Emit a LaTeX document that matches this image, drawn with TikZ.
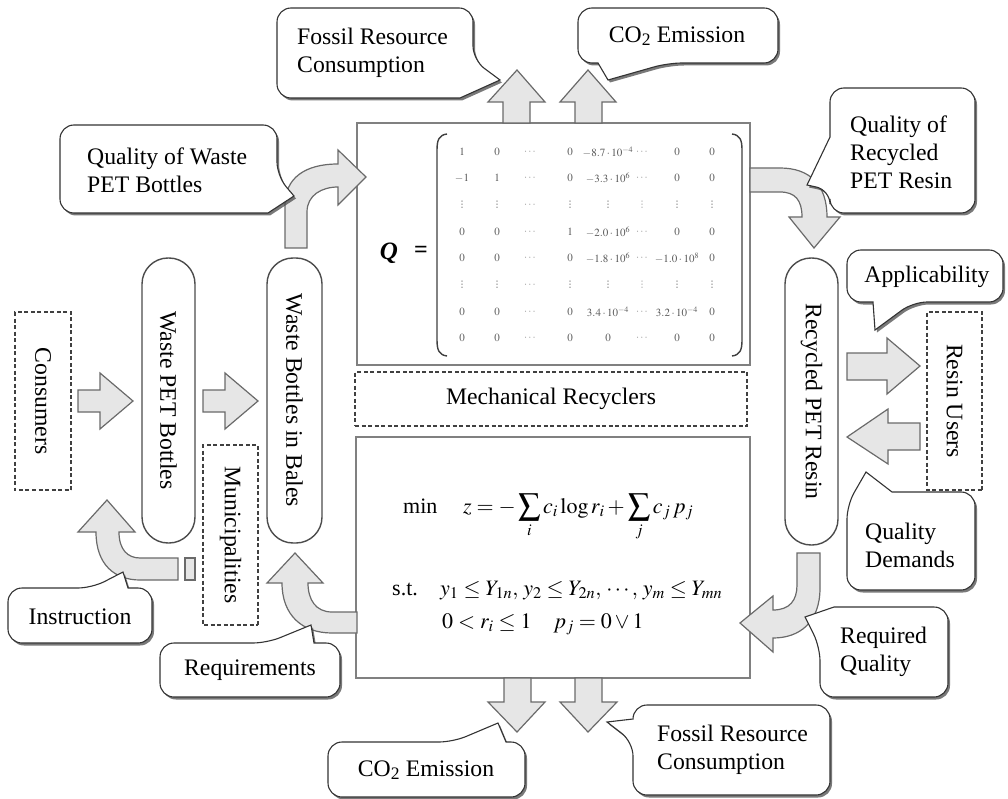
\documentclass[tikz,border=0pt]{standalone}
\usepackage{mathptmx}
\usepackage{fontspec}
\setmainfont{Liberation Serif}
\newfontfamily\dvfont{DejaVu Sans}
\usetikzlibrary{shadows}
\definecolor{arrfill}{HTML}{E6E6E6}
\definecolor{arrline}{HTML}{6A6A6A}
\definecolor{boxline}{HTML}{808080}
\newcommand{\vdts}{\hbox{\dvfont\fontsize{9}{10}\selectfont\char"22EE}}
\tikzset{
  txt/.style={font=\fontsize{23.7}{28}\selectfont, inner sep=0pt, align=left},
  fml/.style={font=\fontsize{22}{26}\selectfont, inner sep=0pt},
  barrow/.style={fill=arrfill, draw=arrline, line width=1.2pt, line join=miter},
  callout/.style={fill=white, draw=black!80, line width=1.1pt,
    drop shadow={shadow xshift=2pt, shadow yshift=-2.5pt, fill=black!70, opacity=0.75}},
  pill/.style={draw=black!70, line width=1.4pt, fill=white, rounded corners=26pt,
    font=\fontsize{23.7}{28}\selectfont, inner sep=0pt},
  dbox/.style={draw=black!75, line width=1.2pt, dash pattern=on 4pt off 2.5pt,
    font=\fontsize{23.7}{28}\selectfont, inner sep=0pt},
  mbox/.style={draw=boxline, line width=1.6pt, fill=white, inner sep=0pt},
  ment/.style={font=\fontsize{11}{12}\selectfont, text=black!65, inner sep=0pt},
  brk/.style={line width=1.4pt, draw=black!75},
}
\begin{document}
\begin{tikzpicture}[x=1pt,y=-1pt]
\useasboundingbox (0,0) rectangle (1008,799);

% main boxes
\node[mbox, minimum width=393pt, minimum height=242pt] (mat) at (553.5,244) {};
\node[mbox, minimum width=394pt, minimum height=241pt] (opt) at (553,557.5) {};
\node[dbox, minimum width=392pt, minimum height=54pt] (mech) at (551,399) {Mechanical Recyclers};

% pills
\node[pill, rotate=-90, minimum width=285pt, minimum height=53pt] (wpb) at (168.5,400.5) {Waste PET Bottles};
\node[pill, rotate=-90, minimum width=285pt, minimum height=55pt] (wbb) at (294.5,400.5) {Waste Bottles in Bales};
\node[pill, rotate=-90, minimum width=287pt, minimum height=53pt] (rpr) at (811.5,401.5) {Recycled PET Resin};

% dashed actor boxes
\node[dbox, rotate=-90, minimum width=178pt, minimum height=56pt] (cons) at (43,401) {Consumers};
\node[dbox, rotate=-90, minimum width=180pt, minimum height=55pt] (muni) at (230.5,535) {Municipalities};
\node[dbox, rotate=-90, minimum width=178pt, minimum height=55pt] (ru) at (954.5,401) {Resin Users};

% straight block arrows
\draw[barrow] (78,390) -- (100,390) -- (100,373) -- (133,401) -- (100,429) -- (100,412) -- (78,412) -- cycle;
\draw[barrow] (203,390) -- (225,390) -- (225,373) -- (258,401) -- (225,429) -- (225,412) -- (203,412) -- cycle;
\draw[barrow] (847,353) -- (887,353) -- (887,338) -- (920,366) -- (887,394) -- (887,380) -- (847,380) -- cycle;
\draw[barrow] (920,423) -- (888,423) -- (888,409) -- (847,437) -- (888,464) -- (888,450) -- (920,450) -- cycle;
\draw[barrow] (503,123) -- (503,102) -- (488,102) -- (517,70) -- (545,102) -- (530,102) -- (530,123) -- cycle;
\draw[barrow] (575,123) -- (575,102) -- (560,102) -- (588,70) -- (616,102) -- (602,102) -- (602,123) -- cycle;
\draw[barrow] (504,678) -- (504,702) -- (488,702) -- (517,732) -- (545,702) -- (531,702) -- (531,678) -- cycle;
\draw[barrow] (575,678) -- (575,702) -- (560,702) -- (588,732) -- (617,702) -- (602,702) -- (602,678) -- cycle;

% curved block arrows
\draw[barrow] (285,248) -- (285,205) .. controls (285,178) and (305,164) .. (338,164) -- (338,150) -- (366,177) -- (338,205) -- (338,187) .. controls (322,187) and (307,195) .. (307,212) -- (307,248) -- cycle;
\draw[barrow] (750,168) -- (780,168) .. controls (810,168) and (827,185) .. (827,217) -- (840,217) -- (814,248) -- (789,217) -- (802,217) .. controls (802,200) and (795,192) .. (780,192) -- (750,192) -- cycle;
\draw[barrow] (797,553) -- (820,553) -- (820,588) .. controls (820,622) and (800,638) .. (773,638) -- (773,652) -- (740,623) -- (773,596) -- (773,610) .. controls (790,610) and (797,600) .. (797,585) -- cycle;
\draw[barrow] (357,612) -- (332,612) .. controls (316,612) and (308,600) .. (308,583) -- (323,583) -- (295,553) -- (267,583) -- (282,583) .. controls (282,615) and (302,633) .. (332,633) -- (357,633) -- cycle;
\draw[barrow] (178,558) -- (140,558) .. controls (128,558) and (119,550) .. (119,532) -- (135,532) -- (107,500) -- (78,532) -- (96,532) .. controls (96,565) and (115,580) .. (140,580) -- (178,580) -- cycle;
\draw[barrow] (185,558) rectangle (195,580);

% matrix
\node[font=\fontsize{25}{28}\selectfont\bfseries\itshape, inner sep=0pt] (Q) at (389,253) {Q};
\node[font=\fontsize{24}{28}\selectfont\bfseries, inner sep=0pt] (eq) at (421,252) {=};
\draw[brk] (447,134) .. controls (439,135) and (437,140) .. (437,150) -- (437,340) .. controls (437,350) and (439,355) .. (447,356);
\draw[brk] (732,134) .. controls (740,135) and (742,140) .. (742,150) -- (742,340) .. controls (742,350) and (740,355) .. (732,356);
\foreach \yy/\xa/\xb/\xc/\xd/\xe/\xf/\xg/\xh in {
  152/1/0/\cdots/0/-8.7\cdot10^{-4}/\cdots/0/0,
  178/-1/1/\cdots/0/-3.3\cdot10^{6}/\cdots/0/0,
  205/\vdts/\vdts/\cdots/\vdts/\vdts/\vdts/\vdts/\vdts,
  232/0/0/\cdots/1/-2.0\cdot10^{6}/\cdots/0/0,
  258/0/0/\cdots/0/-1.8\cdot10^{6}/\cdots/-1.0\cdot10^{8}/0,
  285/\vdts/\vdts/\cdots/\vdts/\vdts/\vdts/\vdts/\vdts,
  312/0/0/\cdots/0/3.4\cdot10^{-4}/\cdots/3.2\cdot10^{-4}/0,
  338/0/0/\cdots/0/0/\cdots/0/0}{
  \node[ment] at (462,\yy) {$\xa$};
  \node[ment] at (497,\yy) {$\xb$};
  \node[ment, text=black!40] at (530,\yy) {$\xc$};
  \node[ment] at (570,\yy) {$\xd$};
  \node[ment] at (608,\yy) {$\xe$};
  \node[ment, text=black!40] at (642,\yy) {$\xf$};
  \node[ment] at (677,\yy) {$\xg$};
  \node[ment] at (712,\yy) {$\xh$};
}

% optimisation formula
\node[fml, anchor=base west] (min) at (403,513) {min};
\node[fml, anchor=base west] (obj) at (463,513) {$\displaystyle z=-\sum_i c_i\log r_i+\sum_j c_j\,p_j$};
\node[fml, anchor=base west] (st) at (392,595) {s.t.};
\node[fml, anchor=base west] (cA) at (440,595) {$y_1\le Y_{1n},\, y_2\le Y_{2n},\,\cdots,\, y_m\le Y_{mn}$};
\node[fml, anchor=base west] (cB) at (442,628) {$0<r_i\le1\quad p_j=0\vee1$};

% callouts
\draw[callout, rounded corners=14pt] (277,8) -- (473,8) -- (473,60) [sharp corners] -- (500,80) -- (460,98) [rounded corners=14pt] -- (277,98) -- cycle;
\draw[callout, rounded corners=14pt] (578,8) -- (778,8) -- (778,63) -- (668,63) [sharp corners] -- (608,80) -- (598,63) [rounded corners=14pt] -- (578,63) -- cycle;
\draw[callout, rounded corners=14pt] (60,125) -- (277,125) -- (277,176) [sharp corners] -- (294,196) -- (268,213) [rounded corners=14pt] -- (60,213) -- cycle;
\draw[callout, rounded corners=14pt] (830,88) -- (975,88) -- (975,213) -- (830,213) -- (830,190) [sharp corners] -- (807,185) -- (830,137) [rounded corners=14pt] -- cycle;
\draw[callout, rounded corners=14pt] (847,250) -- (1003,250) -- (1003,302) -- (913,302) [sharp corners] -- (875,330) -- (873,302) [rounded corners=14pt] -- (847,302) -- cycle;
\draw[callout, rounded corners=14pt] (847,590) -- (847,505) [sharp corners] -- (866,472) -- (892,492) [rounded corners=14pt] -- (975,492) -- (975,590) -- cycle;
\draw[callout, rounded corners=14pt] (820,697) -- (820,647) [sharp corners] -- (805,617) -- (834,607) [rounded corners=14pt] -- (948,607) -- (948,697) -- cycle;
\draw[callout, rounded corners=14pt] (633,795) -- (633,742) [sharp corners] -- (607,722) -- (633,719) [rounded corners=14pt] -- (633,705) -- (830,705) -- (830,795) -- cycle;
\draw[callout, rounded corners=14pt] (328,742) -- (453,742) [sharp corners] -- (498,723) -- (506,742) [rounded corners=14pt] -- (525,742) -- (525,797) -- (328,797) -- cycle;
\draw[callout, rounded corners=14pt] (8,588) -- (92,588) [sharp corners] -- (123,572) -- (128,588) [rounded corners=14pt] -- (152,588) -- (152,643) -- (8,643) -- cycle;
\draw[callout, rounded corners=14pt] (160,643) -- (267,643) [sharp corners] -- (311,625) -- (314,643) [rounded corners=14pt] -- (340,643) -- (340,697) -- (160,697) -- cycle;

% callout texts
\node[txt, anchor=west] (t1) at (297,53) {Fossil Resource\\Consumption};
\node[txt] (t2) at (677,36) {CO\textsubscript{2} Emission};
\node[txt, anchor=west] (t3) at (87,170) {Quality of Waste\\PET Bottles};
\node[txt, anchor=west] (t4) at (850,152) {Quality of\\Recycled\\PET Resin};
\node[txt] (t5) at (927,277) {Applicability};
\node[txt, anchor=west] (t6) at (865,545) {Quality\\Demands};
\node[txt, anchor=west] (t7) at (840,652) {Required\\Quality};
\node[txt, anchor=west] (t8) at (657,750) {Fossil Resource\\Consumption};
\node[txt] (t9) at (426,770) {CO\textsubscript{2} Emission};
\node[txt] (t10) at (80,617) {Instruction};
\node[txt] (t11) at (250,670) {Requirements};
\end{tikzpicture}
\end{document}
